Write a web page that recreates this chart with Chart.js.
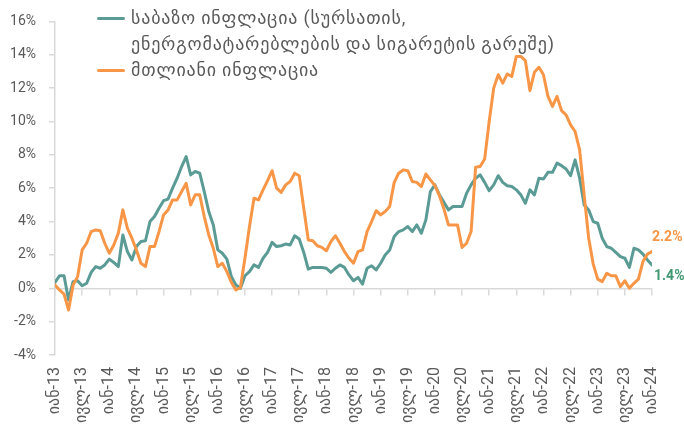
<!DOCTYPE html>
<html><head><meta charset="utf-8">
<script src="https://cdn.jsdelivr.net/npm/chart.js@4"></script>
<style>
html,body{margin:0;padding:0;background:#fff;}
#wrap{position:relative;width:684px;height:430px;}
.leg{position:absolute;font-family:Roboto,'DejaVu Sans',sans-serif;font-size:18px;letter-spacing:0.8px;color:#595959;line-height:26px;white-space:nowrap;}
.sw{position:absolute;height:3px;width:28px;border-radius:2px;}
</style></head><body>
<div id="wrap"><canvas id="c"></canvas>
<div class="sw" style="left:97px;top:17px;background:#5b9b95"></div>
<div class="leg" style="left:131px;top:5px;">საბაზო ინფლაცია (სურსათის,<br>ენერგომატარებლების და სიგარეტის გარეშე)</div>
<div class="sw" style="left:97px;top:69px;background:#f79646"></div>
<div class="leg" style="left:131px;top:57px;">მთლიანი ინფლაცია</div>
</div>
<script>
const tickLabels = ['იან-13','ივლ-13','იან-14','ივლ-14','იან-15','ივლ-15','იან-16','ივლ-16','იან-17','ივლ-17','იან-18','ივლ-18','იან-19','ივლ-19','იან-20','ივლ-20','იან-21','ივლ-21','იან-22','ივლ-22','იან-23','ივლ-23','იან-24'];

const coreInflation = [0.35,0.75,0.75,-0.7,0.4,0.45,0.15,0.3,0.95,1.3,1.2,1.4,
1.75,1.55,1.3,3.2,2.2,1.7,2.5,2.8,2.85,4.0,4.3,4.8,
5.25,5.35,6.0,6.6,7.3,7.9,6.8,7.0,6.9,5.8,4.6,3.8,
2.3,2.1,1.75,0.7,0.2,0.0,0.75,1.0,1.4,1.25,1.8,2.15,
2.75,2.5,2.55,2.65,2.6,3.15,2.95,2.15,1.15,1.25,1.25,1.25,
1.2,0.95,1.2,1.4,1.25,0.8,0.45,0.65,0.25,1.2,1.35,1.1,
1.5,2.0,2.3,3.1,3.4,3.5,3.7,3.4,3.8,3.3,4.1,5.8,
6.2,5.6,5.15,4.7,4.9,4.9,4.9,5.7,6.2,6.6,6.8,6.35,
5.85,6.2,6.75,6.35,6.15,6.1,5.9,5.6,5.1,5.9,5.6,6.6,
6.55,6.95,6.95,7.5,7.35,7.15,6.75,7.7,6.6,5.0,4.7,4.0,
3.9,3.0,2.5,2.4,2.15,1.9,1.8,1.25,2.4,2.3,2.05,1.7,
1.4];

const headlineInflation = [0.2,-0.1,-0.35,-1.3,0.2,0.7,2.3,2.7,3.4,3.5,3.45,2.7,
2.1,2.6,3.3,4.7,3.6,3.0,2.3,1.5,1.3,2.5,2.5,3.4,
4.4,4.7,5.3,5.3,5.8,6.3,5.0,5.6,5.6,4.3,3.2,2.4,
1.3,1.5,1.0,0.35,-0.1,0.05,1.8,3.7,5.4,5.3,5.9,6.45,
7.05,6.0,5.75,6.2,6.4,6.9,6.75,4.8,2.9,2.85,2.55,2.45,
2.25,2.8,3.15,2.7,2.2,1.8,1.5,2.2,2.3,3.4,4.0,4.65,
4.4,4.6,4.9,6.35,6.9,7.1,7.05,6.4,6.35,6.1,6.85,6.5,
6.15,5.55,4.75,3.8,3.8,3.8,2.45,2.7,3.4,7.25,7.3,7.75,
10.0,12.0,12.8,12.3,12.85,12.7,13.9,13.9,13.65,11.85,12.95,13.25,
12.8,11.5,10.9,11.5,10.65,10.4,9.8,9.4,8.3,5.6,3.0,1.45,
0.55,0.4,0.9,0.75,0.75,0.1,0.45,0.0,0.3,0.55,1.6,2.05,
2.2];

const TEAL = '#5b9b95', TEAL_LABEL = '#3f9a73', ORANGE = '#f79646', GRAY = '#595959', AXIS = '#d9d9d9';
const FONT = "Roboto, 'DejaVu Sans', sans-serif";

const endLabels = {
  id: 'endLabels',
  afterDatasetsDraw(chart) {
    const ctx = chart.ctx;
    ctx.save();
    ctx.font = 'bold 14px ' + FONT;
    ctx.textBaseline = 'middle';
    ctx.textAlign = 'left';
    const mO = chart.getDatasetMeta(1), mT = chart.getDatasetMeta(0);
    const pO = mO.data[mO.data.length - 1], pT = mT.data[mT.data.length - 1];
    ctx.fillStyle = ORANGE;
    ctx.fillText(headlineInflation[headlineInflation.length - 1].toFixed(1) + '%', pO.x, pO.y - 14);
    ctx.fillStyle = TEAL_LABEL;
    ctx.fillText(coreInflation[coreInflation.length - 1].toFixed(1) + '%', pT.x + 2, pT.y + 12);
    ctx.restore();
  }
};

new Chart(document.getElementById('c'), {
  type: 'line',
  data: {
    datasets: [
      { label: 'საბაზო ინფლაცია (სურსათის, ენერგომატარებლების და სიგარეტის გარეშე)',
        data: coreInflation.map((v, i) => ({ x: i, y: v })),
        borderColor: TEAL, borderWidth: 3, pointRadius: 0, tension: 0,
        borderJoinStyle: 'round', borderCapStyle: 'round', order: 2 },
      { label: 'მთლიანი ინფლაცია',
        data: headlineInflation.map((v, i) => ({ x: i, y: v })),
        borderColor: ORANGE, borderWidth: 3, pointRadius: 0, tension: 0,
        borderJoinStyle: 'round', borderCapStyle: 'round', order: 1 }
    ]
  },
  options: {
    responsive: true, maintainAspectRatio: false, animation: false,
    layout: { padding: { left: 0, right: 32, top: 6, bottom: 0 } },
    plugins: { legend: { display: false }, tooltip: { enabled: false } },
    scales: {
      x: {
        type: 'linear', min: 0, max: 132, position: 'bottom',
        border: { display: false },
        grid: { display: false, drawTicks: false },
        afterFit: (s) => { s.height = 75; },
        ticks: {
          stepSize: 6, autoSkip: false, minRotation: 90, maxRotation: 90, padding: 12,
          color: GRAY, font: { family: FONT, size: 16 },
          callback: (v) => tickLabels[v / 6]
        }
      },
      x2: {
        type: 'linear', min: 0, max: 132, position: { y: 0 },
        border: { display: true, color: AXIS, width: 1.5 },
        grid: { drawOnChartArea: false, drawTicks: true, tickLength: 6, color: AXIS, lineWidth: 1.5 },
        ticks: { stepSize: 6, autoSkip: false, display: false }
      },
      y: {
        min: -4, max: 16,
        border: { display: true, color: AXIS, width: 1.5 },
        grid: { drawOnChartArea: false, drawTicks: true, tickLength: 6, color: AXIS, lineWidth: 1.5 },
        afterFit: (s) => { s.width = 55; },
        ticks: { stepSize: 2, padding: 13, color: GRAY, font: { family: FONT, size: 14 },
          callback: (v) => v + '%' }
      }
    }
  },
  plugins: [endLabels]
});
</script>
</body></html>
